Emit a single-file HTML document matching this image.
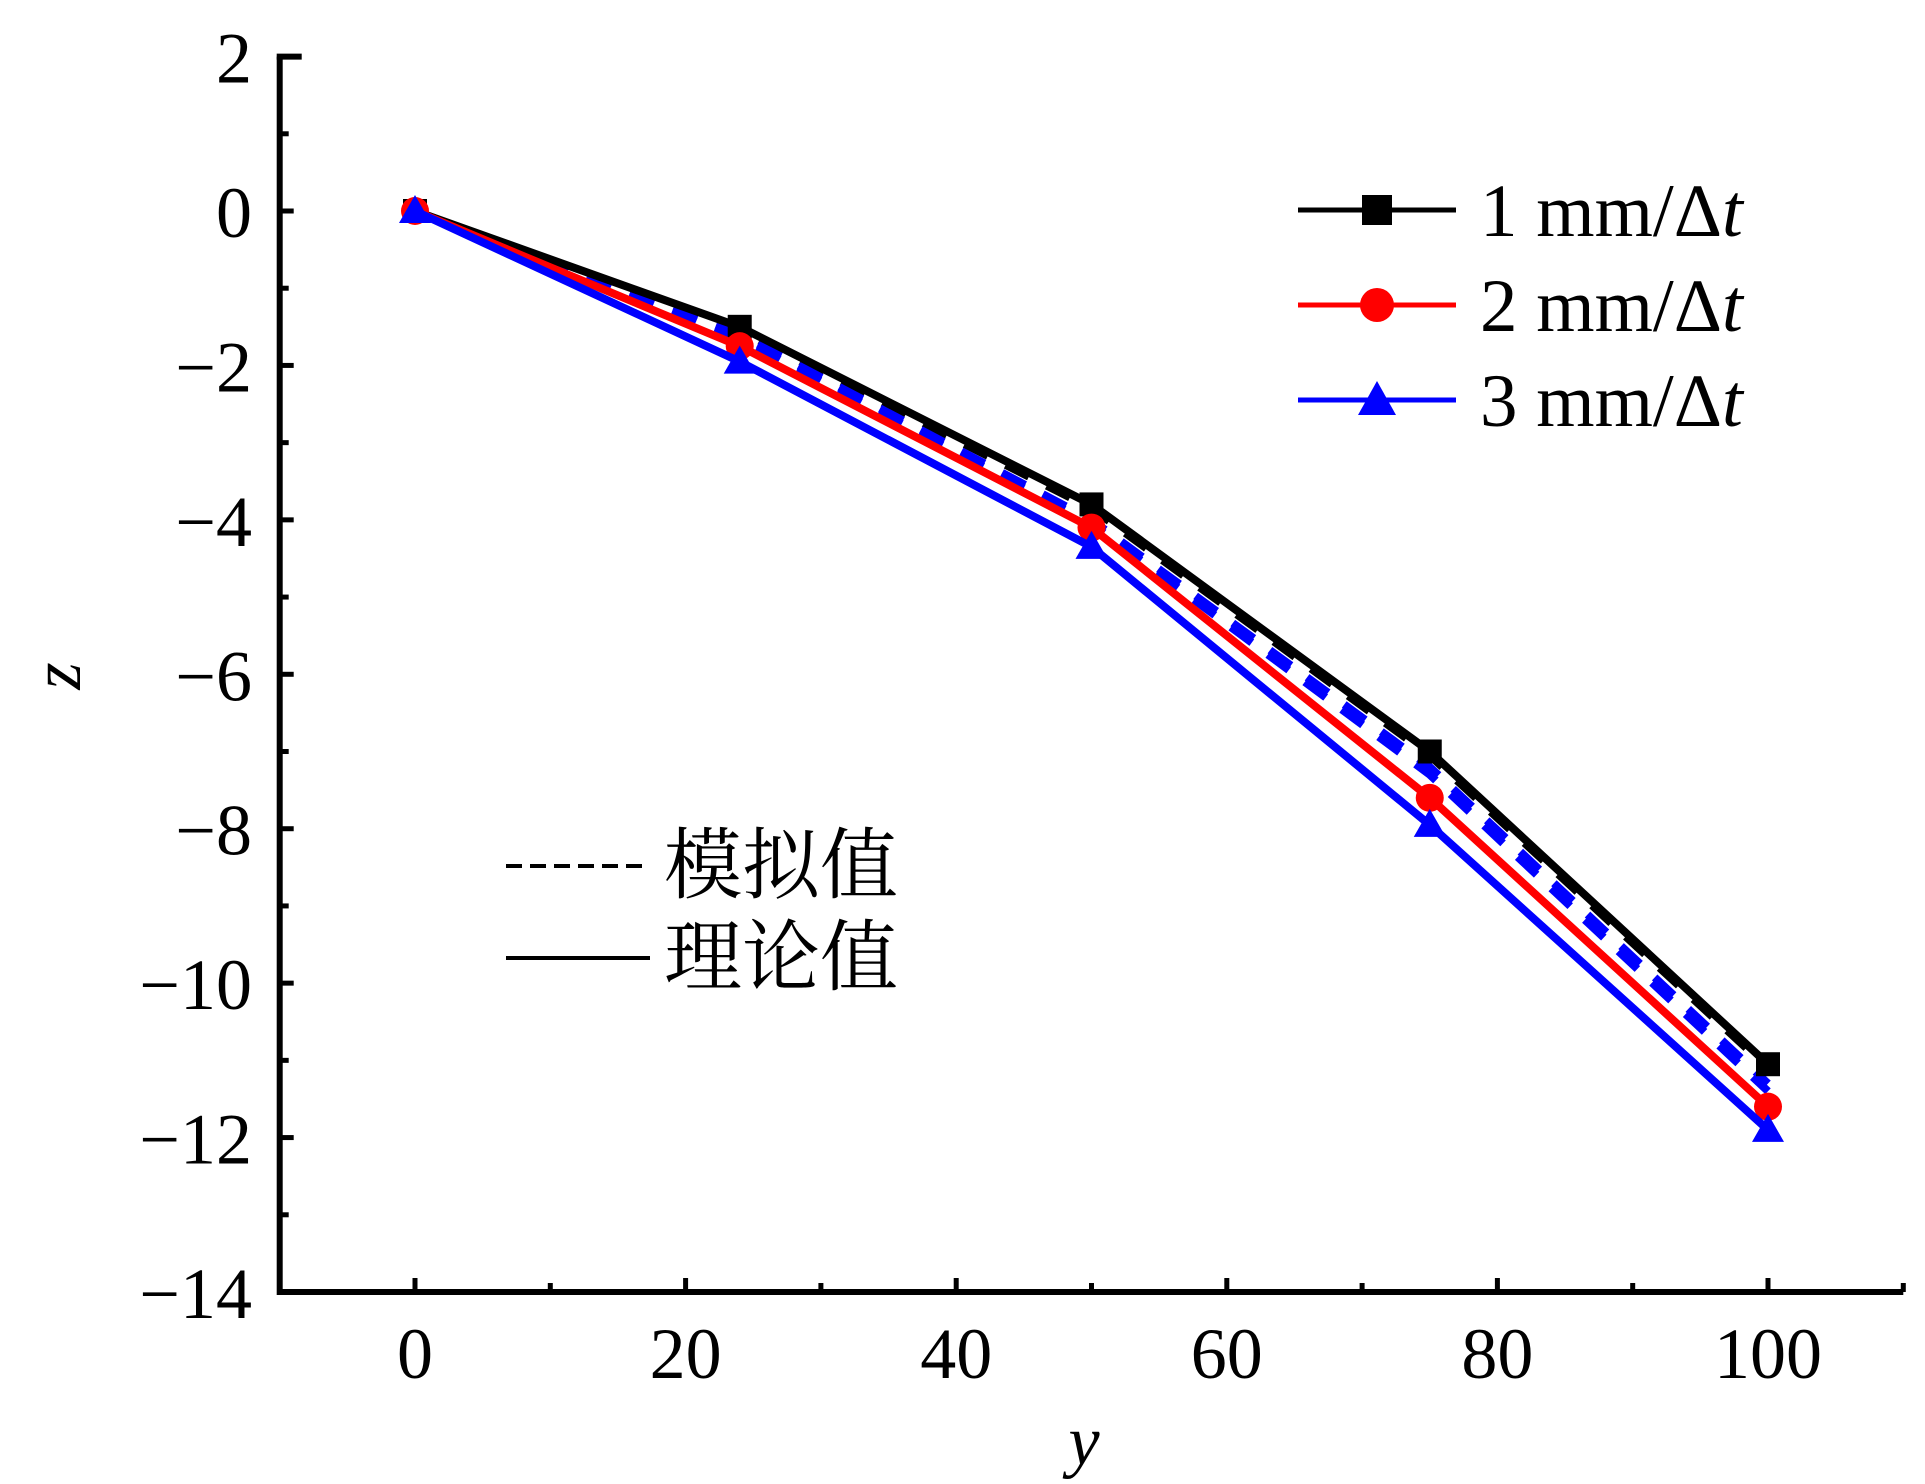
<!DOCTYPE html>
<html><head><meta charset="utf-8"><style>
body{margin:0;background:#fff}
svg{display:block}
text{font-family:"Liberation Serif","Noto Serif CJK SC",serif;fill:#000}
</style></head><body>
<svg id="chart" width="1925" height="1484" viewBox="0 0 1925 1484"></svg>
<script>
const xCats = [0, 24, 50, 75, 100];
const s1Theory = [0, -1.5, -3.8, -7.0, -11.05];
const s2Theory = [0, -1.75, -4.1, -7.6, -11.6];
const s3Theory = [0, -1.95, -4.35, -7.95, -11.9];
const s1Sim = [0, -1.55, -3.85, -7.05, -11.1];
const s2Sim = [0, -1.6, -4.0, -7.2, -11.3];
const s3Sim = [0, -1.65, -4.05, -7.3, -11.4];
const xTicks = [0, 20, 40, 60, 80, 100];
const yTicks = [2, 0, -2, -4, -6, -8, -10, -12, -14];

const svg = document.getElementById('chart');
const NS = 'http://www.w3.org/2000/svg';
const X = v => 415 + (v - 0) * (1768 - 415) / 100;
const Y = v => 211 + (0 - v) * (1292 - 211) / 14;
function mk(tag, attrs, parent) {
  const e = document.createElementNS(NS, tag);
  for (const k in attrs) e.setAttribute(k, attrs[k]);
  (parent || svg).appendChild(e);
  return e;
}
let ax = mk('path', {d: `M${X(-10)} ${Y(2)} V${Y(-14)} H${X(110)}`, stroke: '#000', 'stroke-width': 6, fill: 'none'});


mk('line', {x1: X(-10) - 3, y1: Y(2), x2: X(-10) + 22, y2: Y(2), stroke: '#000', 'stroke-width': 6});
for (let v = 2; v >= -14; v -= 1) {
  const major = v % 2 === 0;
  mk('line', {x1: X(-10), y1: Y(v), x2: X(-10) + (major ? 14 : 9), y2: Y(v), stroke: '#000', 'stroke-width': 5});
}
yTicks.forEach(v => {
  const t = mk('text', {x: 252, y: Y(v) + 26, 'text-anchor': 'end', 'font-size': 72});
  t.textContent = v < 0 ? '\u2212' + Math.abs(v) : String(v);
  
  
});
for (let v = 0; v <= 110; v += 10) {
  const major = v % 20 === 0;
  mk('line', {x1: X(v), y1: Y(-14), x2: X(v), y2: Y(-14) - (major ? 14 : 9), stroke: '#000', 'stroke-width': 5});
}
xTicks.forEach(v => {
  const t = mk('text', {x: X(v), y: 1378, 'text-anchor': 'middle', 'font-size': 72});
  t.textContent = String(v);
  
  
});
let xt = mk('text', {x: 1084, y: 1464, 'text-anchor': 'middle', 'font-size': 70, 'font-style': 'italic'});
xt.textContent = 'y';


let yt = mk('text', {x: 0, y: 0, 'text-anchor': 'middle', 'font-size': 70, 'font-style': 'italic', transform: 'translate(80,676) rotate(-90)'});
yt.textContent = 'z';



const series = [
  {color: '#000', th: s1Theory, sim: s1Sim, mark: 'sq', name: 'series-1mm'},
  {color: '#f00', th: s2Theory, sim: s2Sim, mark: 'ci', name: 'series-2mm'},
  {color: '#00f', th: s3Theory, sim: s3Sim, mark: 'tr', name: 'series-3mm'}
];
function marker(type, cx, cy, color, size) {
  let m;
  if (type === 'sq') m = mk('rect', {x: cx - size, y: cy - size, width: 2 * size, height: 2 * size, fill: color});
  else if (type === 'ci') m = mk('circle', {cx, cy, r: size + 2, fill: color});
  else m = mk('polygon', {points: `${cx},${cy - size - 4} ${cx - size - 4},${cy + size} ${cx + size + 4},${cy + size}`, fill: color});
  return m;
}
series.forEach(s => {
  const d = s.sim.map((v, i) => (i ? 'L' : 'M') + X(xCats[i]) + ' ' + Y(v)).join(' ');
  const p = mk('path', {d, stroke: s.color === '#000' ? '#000' : '#00f', 'stroke-width': 8, fill: 'none', 'stroke-dasharray': '26 20'});
  
  
});
series.forEach(s => {
  const d = s.th.map((v, i) => (i ? 'L' : 'M') + X(xCats[i]) + ' ' + Y(v)).join(' ');
  const p = mk('path', {d, stroke: s.color, 'stroke-width': 8, fill: 'none'});
  
  
  s.th.forEach((v, i) => {
    const m = marker(s.mark, X(xCats[i]), Y(v), s.color, 12);
    
    
  });
});
const labels = ['1 mm/\u0394', '2 mm/\u0394', '3 mm/\u0394'];
series.forEach((s, i) => {
  const y = 210 + i * 95;
  const g = mk('g', {});
  
  
  mk('line', {x1: 1298, y1: y, x2: 1456, y2: y, stroke: s.color, 'stroke-width': 5}, g);
  const m = marker(s.mark, 1377, y, s.color, 15);
  g.appendChild(m);
  const t = mk('text', {x: 1480, y: y + 26, 'font-size': 75}, g);
  t.textContent = labels[i];
  const it = mk('tspan', {'font-style': 'italic'}, t);
  it.textContent = 't';
});
const g2 = mk('g', {});


mk('line', {x1: 506, y1: 866, x2: 650, y2: 866, stroke: '#000', 'stroke-width': 4, 'stroke-dasharray': '16 8'}, g2);
mk('line', {x1: 506, y1: 958, x2: 650, y2: 958, stroke: '#000', 'stroke-width': 4}, g2);
const c1 = mk('text', {x: 664, y: 892, 'font-size': 78}, g2); c1.textContent = '模拟值';
const c2 = mk('text', {x: 664, y: 984, 'font-size': 78}, g2); c2.textContent = '理论值';
</script>
</body></html>
